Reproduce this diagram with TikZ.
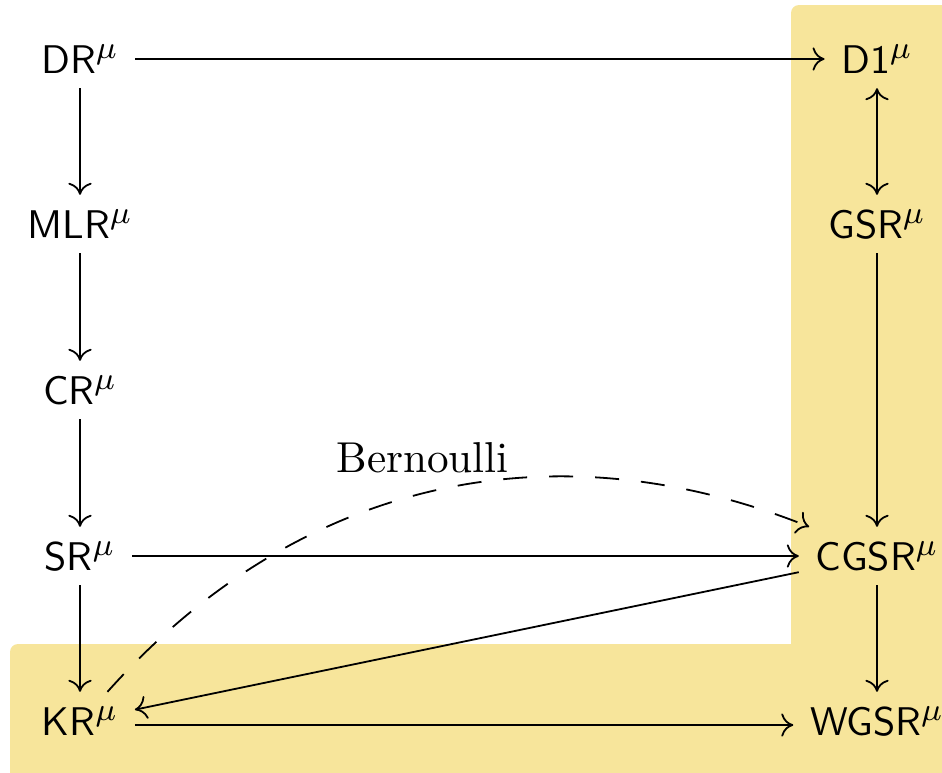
\documentclass[tikz,border=0pt]{standalone}
\usepackage{fontspec}
\DeclareMathSizes{10}{10}{8.5}{6}
\usetikzlibrary{arrows.meta}
\definecolor{hl}{RGB}{247,229,155}
\begin{document}
\begin{tikzpicture}[x=0.25pt,y=-0.25pt,
  cell/.style={font=\sffamily, inner xsep=4pt, inner ysep=3pt, text height=7.6pt, text depth=0.6pt},
  tip/.tip={Computer Modern Rightarrow[length=3pt,width=5.8pt]},
  arr/.style={line width=0.45pt, -tip},
  dasharr/.style={arr, dash pattern=on 6pt off 5.5pt},
  lab/.style={font=\fontsize{10.8}{13}\selectfont, inner sep=2pt}]
\useasboundingbox (0,0) rectangle (942,772);
\begin{scope}
  \clip (0,0) rectangle (942,772);
  \fill[hl, rounded corners=2pt] (791,5) rectangle (990,820);
  \fill[hl, rounded corners=2pt] (10,644) rectangle (990,820);
\end{scope}
\node[cell] (DR)   at (80,59)  {DR$^\mu$};
\node[cell] (MLR)  at (80,224) {MLR$^\mu$};
\node[cell] (CR)   at (80,390) {CR$^\mu$};
\node[cell] (SR)   at (80,556) {SR$^\mu$};
\node[cell] (KR)   at (80,721) {KR$^\mu$};
\node[cell] (D1)   at (877,59)  {D1$^\mu$};
\node[cell] (GSR)  at (877,224) {GSR$^\mu$};
\node[cell] (CGSR) at (877,556) {CGSR$^\mu$};
\node[cell] (WGSR) at (877,721) {WGSR$^\mu$};
\draw[arr] (DR) -- (D1);
\draw[arr] (DR) -- (MLR);
\draw[arr] (MLR) -- (CR);
\draw[arr] (CR) -- (SR);
\draw[arr] (SR) -- (KR);
\draw[arr, tip-tip] (D1) -- (GSR);
\draw[arr] (GSR) -- (CGSR);
\draw[arr] (CGSR) -- (WGSR);
\draw[arr] (SR) -- (CGSR);
\draw[arr] (CGSR) -- (KR);
\draw[arr] ([yshift=-1pt]KR.east) -- ([yshift=-1pt]WGSR.west);
\draw[dasharr] (KR) to[bend left=35] node[lab, above, xshift=-2pt, yshift=2.5pt] {Bernoulli} (CGSR);
\end{tikzpicture}
\end{document}
